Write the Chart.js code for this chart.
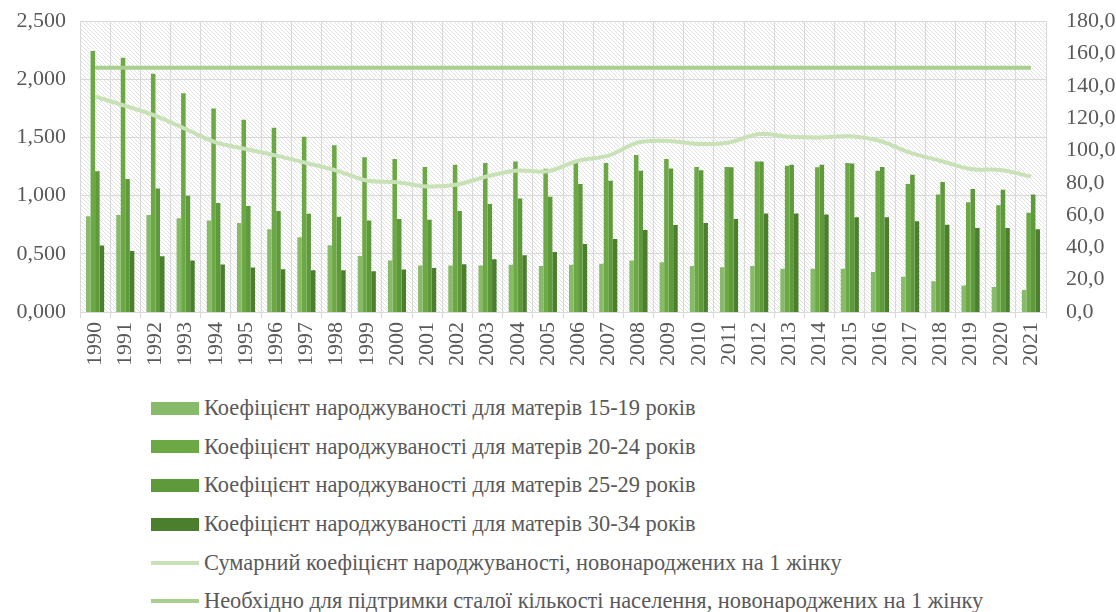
<!DOCTYPE html>
<html>
<head>
<meta charset="utf-8">
<script src="https://cdn.jsdelivr.net/npm/chart.js@4/dist/chart.umd.min.js"></script>
<style>
  html, body { margin: 0; padding: 0; background: #fff; overflow: hidden; }
  #wrap { position: relative; width: 1116px; height: 612px; overflow: hidden; }
  #box { position: absolute; left: 0; top: -12px; width: 1116px; height: 397px; }
  #legend { position: absolute; left: 151px; top: 389px; font-family: "Liberation Serif", "Times New Roman", serif; font-size: 22.4px; color: #595959; }
  #legend .row { height: 38.6px; display: flex; align-items: center; white-space: nowrap; }
  #legend .sw { width: 48px; margin-right: 5px; }
  #legend .bar { height: 13px; }
  #legend .ln { height: 4px; }
</style>
</head>
<body>
<div id="wrap">
  <div id="box"><canvas id="c"></canvas></div>
  <div id="legend"></div>
</div>
<script>
const years = ['1990','1991','1992','1993','1994','1995','1996','1997','1998','1999','2000','2001','2002','2003','2004','2005','2006','2007','2008','2009','2010','2011','2012','2013','2014','2015','2016','2017','2018','2019','2020','2021'];
const rate15to19 = [59.2, 60.0, 60.0, 58.0, 56.7, 55.1, 51.2, 46.2, 41.3, 34.7, 31.9, 28.8, 28.8, 28.8, 29.2, 28.4, 29.2, 29.8, 31.9, 30.8, 28.4, 27.7, 28.4, 26.7, 26.7, 26.7, 24.7, 21.8, 19.1, 16.4, 15.4, 13.6];
const rate20to24 = [161.5, 157.4, 147.5, 135.4, 126.0, 119.0, 114.1, 108.5, 103.2, 95.8, 94.7, 89.8, 91.2, 92.3, 93.1, 88.6, 92.3, 92.3, 97.2, 94.7, 89.8, 89.8, 93.1, 90.6, 89.6, 92.3, 87.5, 79.3, 72.7, 68.0, 66.0, 61.4];
const rate25to29 = [87.1, 82.4, 76.4, 71.9, 67.4, 65.6, 62.5, 60.8, 59.0, 56.7, 57.5, 57.1, 62.5, 66.8, 70.3, 71.3, 79.3, 81.2, 87.5, 88.8, 87.7, 89.6, 93.1, 91.2, 91.2, 91.9, 89.8, 84.9, 80.4, 76.2, 75.6, 72.7];
const rate30to34 = [41.1, 37.8, 34.5, 31.9, 29.4, 27.5, 26.5, 25.9, 25.9, 25.3, 26.3, 27.3, 29.6, 32.7, 35.1, 37.2, 42.1, 45.2, 50.8, 53.8, 55.1, 57.5, 61.0, 61.0, 60.4, 58.6, 58.6, 56.1, 54.0, 52.0, 52.0, 51.2];
const totalFertility = [1.852, 1.772, 1.687, 1.573, 1.458, 1.401, 1.344, 1.281, 1.216, 1.130, 1.116, 1.079, 1.096, 1.167, 1.216, 1.210, 1.300, 1.344, 1.458, 1.470, 1.444, 1.458, 1.530, 1.507, 1.500, 1.510, 1.470, 1.370, 1.300, 1.230, 1.220, 1.164];
const replacementLevel = [2.1, 2.1, 2.1, 2.1, 2.1, 2.1, 2.1, 2.1, 2.1, 2.1, 2.1, 2.1, 2.1, 2.1, 2.1, 2.1, 2.1, 2.1, 2.1, 2.1, 2.1, 2.1, 2.1, 2.1, 2.1, 2.1, 2.1, 2.1, 2.1, 2.1, 2.1, 2.1];
const leftTicks = [0, 0.5, 1, 1.5, 2, 2.5];
const rightTicks = [0, 20, 40, 60, 80, 100, 120, 140, 160, 180];

const labels = [
  'Коефіцієнт народжуваності для матерів 15-19 років',
  'Коефіцієнт народжуваності для матерів 20-24 років',
  'Коефіцієнт народжуваності для матерів 25-29 років',
  'Коефіцієнт народжуваності для матерів 30-34 років',
  'Сумарний коефіцієнт народжуваності, новонароджених на 1 жінку',
  'Необхідно для підтримки сталої кількості населення, новонароджених на 1 жінку'
];
const colors = ['#88bb69', '#6ca945', '#5e9a3b', '#4b7e2d', '#c8e1b6', '#a9cf8e'];

// hatch pattern for plot background
const pc = document.createElement('canvas');
pc.width = 4; pc.height = 4;
const pctx = pc.getContext('2d');
pctx.fillStyle = '#ffffff'; pctx.fillRect(0,0,4,4);
pctx.strokeStyle = '#e2e2e2'; pctx.lineWidth = 1;
pctx.beginPath(); pctx.moveTo(-1,-1); pctx.lineTo(5,5); pctx.stroke();
pctx.beginPath(); pctx.moveTo(3,-1); pctx.lineTo(5,1); pctx.stroke();
pctx.beginPath(); pctx.moveTo(-1,3); pctx.lineTo(1,5); pctx.stroke();

const bgPlugin = {
  id: 'bg',
  beforeDraw(chart) {
    const {ctx, chartArea: a} = chart;
    ctx.save();
    ctx.fillStyle = ctx.createPattern(pc, 'repeat');
    ctx.fillRect(a.left, a.top, a.right - a.left, a.bottom - a.top);
    ctx.restore();
  }
};

const tickFont = { family: '"Liberation Serif", "Times New Roman", serif', size: 22 };
const fmtLeft = v => v.toFixed(3).replace('.', ',');
const fmtRight = v => v.toFixed(1).replace('.', ',');

const barDs = (i, data) => ({
  type: 'bar', label: labels[i], data, backgroundColor: colors[i], borderWidth: 0,
  yAxisID: 'y2', order: 2, categoryPercentage: 0.6, barPercentage: 1.0
});

new Chart(document.getElementById('c'), {
  data: {
    labels: years,
    datasets: [
      barDs(0, rate15to19),
      barDs(1, rate20to24),
      barDs(2, rate25to29),
      barDs(3, rate30to34),
      { type: 'line', label: labels[4], data: totalFertility, borderColor: colors[4], borderWidth: 4, pointRadius: 0, tension: 0.35, yAxisID: 'y', order: 1 },
      { type: 'line', label: labels[5], data: replacementLevel, borderColor: colors[5], borderWidth: 4, pointRadius: 0, tension: 0, yAxisID: 'y', order: 0 }
    ]
  },
  options: {
    responsive: true, maintainAspectRatio: false, animation: false,
    layout: { padding: { top: 8, left: 0, right: 0, bottom: 0 } },
    plugins: { legend: { display: false }, tooltip: { enabled: false } },
    scales: {
      x: {
        offset: true,
        grid: { offset: true, color: '#d9d9d9', lineWidth: 1, tickLength: 6, drawOnChartArea: true },
        border: { color: '#d9d9d9' },
        ticks: { color: '#595959', font: tickFont, minRotation: 90, maxRotation: 90, autoSkip: false, padding: 4 },
        afterFit(s) { s.height = 73; }
      },
      y: {
        position: 'left', min: 0, max: 2.5,
        afterBuildTicks(s) { s.ticks = leftTicks.map(v => ({ value: v })); },
        grid: { color: '#d9d9d9', lineWidth: 1, drawTicks: false },
        border: { display: false },
        ticks: { color: '#595959', font: tickFont, padding: 14, callback: v => fmtLeft(v) },
        afterFit(s) { s.width = 80; }
      },
      y2: {
        position: 'right', min: 0, max: 180,
        afterBuildTicks(s) { s.ticks = rightTicks.map(v => ({ value: v })); },
        grid: { display: false, drawTicks: false },
        border: { display: false },
        ticks: { color: '#595959', font: tickFont, padding: 20, callback: v => fmtRight(v) },
        afterFit(s) { s.width = 70; }
      }
    }
  },
  plugins: [bgPlugin]
});

// HTML legend built from the same labels/colors
const lg = document.getElementById('legend');
labels.forEach((t, i) => {
  const row = document.createElement('div'); row.className = 'row';
  const sw = document.createElement('div'); sw.className = 'sw ' + (i < 4 ? 'bar' : 'ln');
  sw.style.background = colors[i];
  const tx = document.createElement('span'); tx.textContent = t;
  row.appendChild(sw); row.appendChild(tx); lg.appendChild(row);
});
</script>
</body>
</html>
